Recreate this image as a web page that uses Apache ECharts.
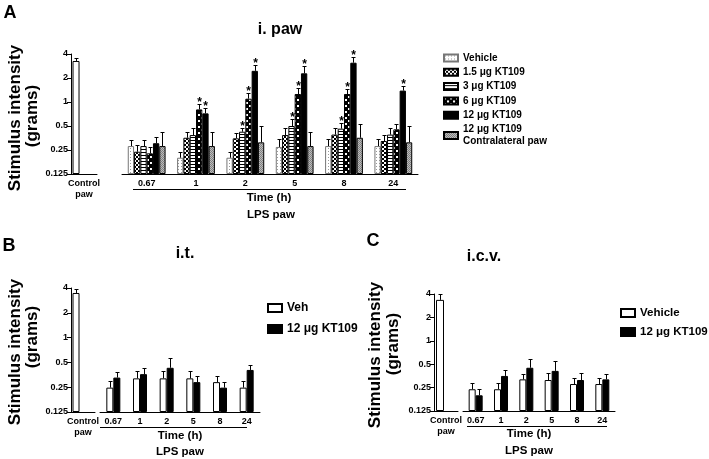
<!DOCTYPE html>
<html><head><meta charset="utf-8">
<script src="https://cdn.jsdelivr.net/npm/echarts@6/dist/echarts.min.js"></script>
<style>html,body{margin:0;padding:0;background:#fff}#c{width:709px;height:459px}</style>
</head><body><div id="c"></div>
<script>
// ---------- data ----------
const timeCats = ['0.67', '1', '2', '5', '8', '24'];
const controlCat = ['Control\npaw'];
const yTicks = [0.125, 0.25, 0.5, 1, 2, 4];

// Panel A (i. paw)
const namesA = ['Vehicle', '1.5 μg KT109', '3 μg KT109', '6 μg KT109', '12 μg KT109', '12 μg KT109\nContralateral paw'];
const ctrlA = [3.27];
const ctrlAErr = [3.6];
const vehA = [0.28, 0.20, 0.20, 0.273, 0.28, 0.28];
const k15A = [0.238, 0.356, 0.35, 0.385, 0.39, 0.324];
const k3A = [0.28, 0.385, 0.424, 0.5, 0.463, 0.39];
const k6A = [0.227, 0.807, 1.1, 1.26, 1.26, 0.454];
const k12A = [0.304, 0.72, 2.46, 2.29, 3.11, 1.39];
const contraA = [0.28, 0.28, 0.312, 0.28, 0.356, 0.312];
const vehAErr = [0.334, 0.238, 0.238, 0.34, 0.34, 0.34];
const k15AErr = [0.289, 0.424, 0.405, 0.467, 0.467, 0.385];
const k3AErr = [0.334, 0.467, 0.467, 0.616, 0.54, 0.467];
const k6AErr = [0.275, 0.945, 1.28, 1.49, 1.47, 0.525];
const k12AErr = [0.366, 0.84, 2.91, 2.83, 3.7, 1.6];
const contraAErr = [0.417, 0.417, 0.5, 0.417, 0.525, 0.5];
const starsK3A = [0, 0, 1, 1, 1, 0];
const starsK6A = [0, 1, 1, 1, 1, 0];
const starsK12A = [0, 1, 1, 1, 1, 1];

// Panel B (i.t.)
const namesB = ['Veh', '12 μg KT109'];
const ctrlB = [3.48];
const ctrlBErr = [3.9];
const vehB = [0.247, 0.32, 0.32, 0.32, 0.288, 0.247];
const ktB = [0.327, 0.36, 0.43, 0.288, 0.247, 0.405];
const vehBErr = [0.299, 0.395, 0.395, 0.395, 0.343, 0.299];
const ktBErr = [0.381, 0.433, 0.563, 0.343, 0.293, 0.467];

// Panel C (i.c.v.)
const namesC = ['Vehicle', '12 μg KT109'];
const ctrlC = [3.36];
const ctrlCErr = [4.0];
const vehC = [0.238, 0.238, 0.319, 0.313, 0.278, 0.278];
const ktC = [0.199, 0.353, 0.45, 0.41, 0.313, 0.319];
const vehCErr = [0.289, 0.289, 0.371, 0.389, 0.335, 0.335];
const ktCErr = [0.238, 0.421, 0.583, 0.55, 0.389, 0.371];

// ---------- styles ----------
const FF = '"Liberation Sans", Arial, sans-serif';
function pat(w, h, draw) {
  const c = document.createElement('canvas'); c.width = w; c.height = h;
  const g = c.getContext('2d'); draw(g);
  return { image: c, repeat: 'repeat' };
}
const pVeh = pat(3, 3, g => { g.fillStyle = '#fff'; g.fillRect(0, 0, 3, 3); g.fillStyle = '#9a9a9a'; g.fillRect(1, 1, 1, 1); });
const p15 = pat(4, 4, g => { g.fillStyle = '#fff'; g.fillRect(0, 0, 4, 4); g.fillStyle = '#000'; g.fillRect(0, 0, 2, 2); g.fillRect(2, 2, 2, 2); });
const p3 = pat(4, 3, g => { g.fillStyle = '#fff'; g.fillRect(0, 0, 4, 3); g.fillStyle = '#000'; g.fillRect(0, 2, 4, 1); });
const p6 = pat(6, 6, g => { g.fillStyle = '#000'; g.fillRect(0, 0, 6, 6); g.fillStyle = '#fff'; g.fillRect(0, 0, 2, 2); g.fillRect(3, 3, 2, 2); });
const pContra = pat(2, 2, g => { g.fillStyle = '#bdbdbd'; g.fillRect(0, 0, 2, 2); g.fillStyle = '#808080'; g.fillRect(0, 0, 1, 1); g.fillRect(1, 1, 1, 1); });
const fillsA = [pVeh, p15, p3, p6, '#000', pContra];
const bordersA = ['#777', '#000', '#000', '#000', '#000', '#000'];

const grids = [
  { left: 71, top: 54, width: 26, height: 120 },
  { left: 122, top: 54, width: 296, height: 120 },
  { left: 71, top: 288, width: 24, height: 124 },
  { left: 100, top: 288, width: 160, height: 124 },
  { left: 434, top: 294, width: 24, height: 117 },
  { left: 463, top: 294, width: 152, height: 117 }
];

function xAx(i, data) {
  return {
    type: 'category', gridIndex: i, data: data,
    axisLine: { show: true, lineStyle: { color: '#000', width: 1 } },
    axisTick: { show: false },
    axisLabel: { color: '#000', fontSize: 9, fontWeight: 'bold', fontFamily: FF, margin: 4, lineHeight: 11, interval: 0 }
  };
}
function yAx(i, show) {
  return {
    type: 'log', logBase: 2, gridIndex: i, min: 0.125, max: 4, startValue: 0.125, show: show,
    axisLine: { show: true, lineStyle: { color: '#000', width: 1 } },
    axisTick: { show: true, length: 4, lineStyle: { color: '#000' } },
    splitLine: { show: false },
    axisLabel: { color: '#000', fontSize: 9, fontWeight: 'bold', fontFamily: FF, margin: 3,
      formatter: v => { const m = yTicks.find(t => Math.abs(t - v) < 1e-6); return m === undefined ? '' : String(m); } }
  };
}

function bar(name, gi, data, fill, border, bw, gap) {
  return { type: 'bar', name: name, xAxisIndex: gi, yAxisIndex: gi, data: data, barWidth: bw, barGap: gap,
    itemStyle: { color: fill, borderColor: border, borderWidth: 1 }, silent: true, animation: false };
}
function err(gi, vals, tops, stars, offset) {
  return {
    type: 'custom', xAxisIndex: gi, yAxisIndex: gi, silent: true, z: 5, animation: false,
    data: vals.map((v, i) => [i, v, tops[i], stars ? stars[i] : 0]),
    renderItem: (params, api) => {
      const c = api.coord([api.value(0), api.value(1)]);
      const t = api.coord([api.value(0), api.value(2)]);
      const x = Math.round(c[0] + offset) + 0.5;
      const ty = Math.round(t[1]) + 0.5;
      const ch = [
        { type: 'line', shape: { x1: x, y1: c[1], x2: x, y2: ty }, style: { stroke: '#000', lineWidth: 1 } },
        { type: 'line', shape: { x1: x - 2, y1: ty, x2: x + 2, y2: ty }, style: { stroke: '#000', lineWidth: 1 } }
      ];
      if (api.value(3)) ch.push({ type: 'text', x: x, y: ty - 2, style: { text: '*', fill: '#000', fontSize: 12, fontWeight: 'bold', fontFamily: FF, align: 'center', verticalAlign: 'middle' } });
      return { type: 'group', children: ch };
    }
  };
}

const series = [];
// A control
series.push(bar('ctrlA', 0, ctrlA, '#fff', '#000', 7, '128%'));
series.push(bar('spA', 0, [], '#fff', '#000', 7, '128%'));
series.push(err(0, ctrlA, ctrlAErr, null, -8));
// A main
const valsA = [vehA, k15A, k3A, k6A, k12A, contraA];
const errsA = [vehAErr, k15AErr, k3AErr, k6AErr, k12AErr, contraAErr];
const starsA = [null, null, starsK3A, starsK6A, starsK12A, null];
const bwA = 6.3;
valsA.forEach((v, k) => series.push(bar(namesA[k], 1, v, fillsA[k], bordersA[k], bwA, '0%')));
valsA.forEach((v, k) => series.push(err(1, v, errsA[k], starsA[k], (k - 2.5) * bwA)));
// B
series.push(bar('ctrlB', 2, ctrlB, '#fff', '#000', 7, '100%'));
series.push(bar('spB', 2, [], '#fff', '#000', 7, '100%'));
series.push(err(2, ctrlB, ctrlBErr, null, -7));
series.push(bar('B_veh', 3, vehB, '#fff', '#000', 7, '0%'));
series.push(bar('B_kt', 3, ktB, '#000', '#000', 7, '0%'));
series.push(err(3, vehB, vehBErr, null, -3.5));
series.push(err(3, ktB, ktBErr, null, 3.5));
// C
series.push(bar('ctrlC', 4, ctrlC, '#fff', '#000', 8, '50%'));
series.push(bar('spC', 4, [], '#fff', '#000', 8, '50%'));
series.push(err(4, ctrlC, ctrlCErr, null, -6));
series.push(bar('C_veh', 5, vehC, '#fff', '#000', 7, '0%'));
series.push(bar('C_kt', 5, ktC, '#000', '#000', 7, '0%'));
series.push(err(5, vehC, vehCErr, null, -3.5));
series.push(err(5, ktC, ktCErr, null, 3.5));

const legendLabel = { B_veh: namesB[0], B_kt: namesB[1], C_veh: namesC[0], C_kt: namesC[1] };
const legendText = (size) => ({ color: '#000', fontSize: size, fontWeight: 'bold', fontFamily: FF });

function txt(x, y, s, size, rot) {
  return { type: 'text', x: x, y: y, rotation: rot || 0, silent: true,
    style: { text: s, fill: '#000', fontSize: size, fontWeight: 'bold', fontFamily: FF, align: 'center', verticalAlign: 'middle' } };
}
function hline(x1, x2, y) {
  return { type: 'line', silent: true, shape: { x1: x1, y1: y + 0.5, x2: x2, y2: y + 0.5 }, style: { stroke: '#000', lineWidth: 1 } };
}
const R = Math.PI / 2;
const graphics = [
  txt(10, 13, 'A', 18), txt(9, 246, 'B', 18), txt(373, 241, 'C', 18),
  txt(280, 30, 'i. paw', 16), txt(185, 254, 'i.t.', 16), txt(484, 257, 'i.c.v.', 16),
  txt(15, 118, 'Stimulus intensity', 17, R), txt(32, 116, '(grams)', 17, R),
  txt(15, 352, 'Stimulus intensity', 17, R), txt(32, 337, '(grams)', 17, R),
  txt(375, 355, 'Stimulus intensity', 17, R), txt(393, 344, '(grams)', 17, R),
  hline(133, 406, 189), txt(269, 198, 'Time (h)', 11.5), txt(271, 215, 'LPS paw', 11.5),
  hline(100, 247, 427), txt(180, 436, 'Time (h)', 11.5), txt(180, 452, 'LPS paw', 11.5),
  hline(467, 607, 426), txt(529, 434, 'Time (h)', 11.5), txt(529, 451, 'LPS paw', 11.5)
];

const chart = echarts.init(document.getElementById('c'), null, { renderer: 'canvas' });
chart.setOption({
  animation: false,
  backgroundColor: '#fff',
  grid: grids,
  xAxis: [xAx(0, controlCat), xAx(1, timeCats), xAx(2, controlCat), xAx(3, timeCats), xAx(4, controlCat), xAx(5, timeCats)],
  yAxis: [yAx(0, true), yAx(1, false), yAx(2, true), yAx(3, false), yAx(4, true), yAx(5, false)],
  legend: [
    { data: namesA, orient: 'vertical', left: 438, top: 47, icon: 'rect', itemWidth: 14, itemHeight: 7, itemGap: 2.3,
      textStyle: Object.assign(legendText(10), { lineHeight: 12 }), selectedMode: false },
    { data: ['B_veh', 'B_kt'], orient: 'vertical', left: 262, top: 297, icon: 'rect', itemWidth: 14, itemHeight: 8, itemGap: 9,
      formatter: n => legendLabel[n], textStyle: legendText(12), selectedMode: false },
    { data: ['C_veh', 'C_kt'], orient: 'vertical', left: 615, top: 302, icon: 'rect', itemWidth: 14, itemHeight: 8, itemGap: 7,
      formatter: n => legendLabel[n], textStyle: legendText(11.5), selectedMode: false }
  ],
  graphic: graphics,
  series: series
});
</script></body></html>
